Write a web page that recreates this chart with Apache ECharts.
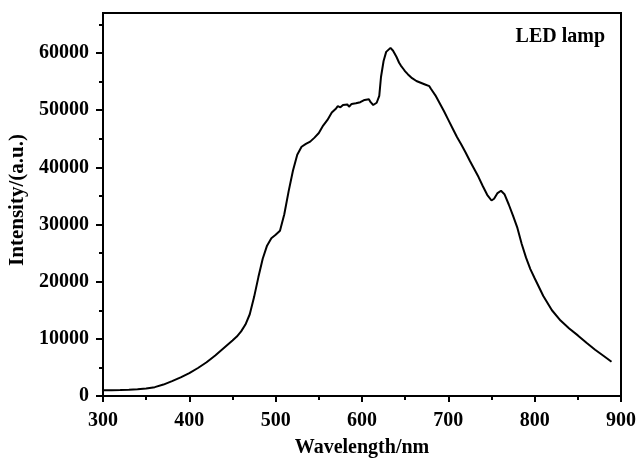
<!DOCTYPE html>
<html>
<head>
<meta charset="utf-8">
<script src="https://cdn.jsdelivr.net/npm/echarts@6/dist/echarts.min.js"></script>
<style>
html,body{margin:0;padding:0;background:#fff;}
#chart{width:638px;height:458px;}
</style>
</head>
<body>
<div id="chart"></div>
<script>
var wavelength = [300,310,320,330,340,350,360,370,380,390,400,410,420,430,440,450,455,460,465,470,475,480,485,490,495,500,505,510,515,520,525,530,535,540,545,550,555,560,565,570,572,575,578,580,583,585,588,590,593,595,598,600,603,605,608,610,613,615,617,620,622,625,628,630,633,636,640,643,645,648,650,653,655,658,660,663,665,668,670,673,675,678,680,685,690,695,700,705,710,715,720,725,730,735,740,745,750,753,757,761,765,770,775,780,785,790,795,800,810,820,830,840,850,860,870,880,889];
var intensity = [1000,1020,1050,1100,1180,1300,1550,2000,2600,3250,4000,4900,5900,7100,8400,9700,10400,11300,12500,14300,17300,20800,24000,26300,27600,28200,28900,31800,35800,39400,42200,43600,44100,44500,45200,46000,47300,48300,49600,50300,50700,50500,50900,50700,51000,50600,51100,50800,51200,51000,51400,51300,51800,51700,51900,51400,50900,50600,51300,52500,55800,58600,60200,60500,60900,60400,59300,58300,57800,57200,56800,56300,56100,55600,55400,55100,55200,54800,54900,54500,54600,54200,53700,52600,51200,49800,48300,46800,45300,44000,42600,41100,39700,38300,36700,35200,34200,34500,35500,35900,35300,33500,31500,29400,26600,24200,22200,20600,17500,15000,13200,11800,10600,9300,8100,7000,6000];
var yMajor = [0,10000,20000,30000,40000,50000,60000];
var yMinor = [5000,15000,25000,35000,45000,55000,65000];

var seriesData = wavelength.map(function(w,i){return [w,intensity[i]];});
var font = 'Liberation Serif';
var plain = function(v){return String(v);};
var chart = echarts.init(document.getElementById('chart'));
chart.setOption({
  animation:false,
  grid:{left:103,right:17,top:13,bottom:62,show:true,borderColor:'#000',borderWidth:2,containLabel:false,outerBoundsMode:'none'},
  xAxis:{
    type:'value',min:300,max:900,interval:100,
    name:'Wavelength/nm',nameLocation:'middle',nameGap:42,
    nameTextStyle:{fontFamily:font,fontWeight:'bold',fontSize:20,color:'#000'},
    axisLine:{lineStyle:{color:'#000',width:2}},
    axisTick:{length:6,lineStyle:{color:'#000',width:2}},
    minorTick:{show:true,splitNumber:2,length:4,lineStyle:{color:'#000',width:2}},
    axisLabel:{margin:15,formatter:plain,fontFamily:font,fontWeight:'bold',fontSize:20,color:'#000'},
    splitLine:{show:false}
  },
  yAxis:[{
    type:'value',min:0,max:67000,
    name:'Intensity/(a.u.)',nameLocation:'middle',nameGap:57,
    nameTextStyle:{fontFamily:font,fontWeight:'bold',fontSize:21,color:'#000',padding:[0,0,0,9]},
    axisLine:{lineStyle:{color:'#000',width:2}},
    axisTick:{length:7,customValues:yMajor,lineStyle:{color:'#000',width:2}},
    axisLabel:{margin:14,customValues:yMajor,formatter:plain,fontFamily:font,fontWeight:'bold',fontSize:20,color:'#000'},
    splitLine:{show:false}
  },{
    type:'value',min:0,max:67000,position:'left',
    axisLine:{show:false},
    axisTick:{length:4,customValues:yMinor,lineStyle:{color:'#000',width:2}},
    axisLabel:{show:false},
    splitLine:{show:false}
  }],
  graphic:[{
    type:'text',right:33,top:27,
    style:{text:'LED lamp',fontFamily:font,fontWeight:'bold',fontSize:20,fill:'#000'}
  }],
  series:[{
    type:'line',data:seriesData,showSymbol:false,yAxisIndex:0,
    lineStyle:{color:'#000',width:2},
    itemStyle:{color:'#000'}
  }]
});
</script>
</body>
</html>
